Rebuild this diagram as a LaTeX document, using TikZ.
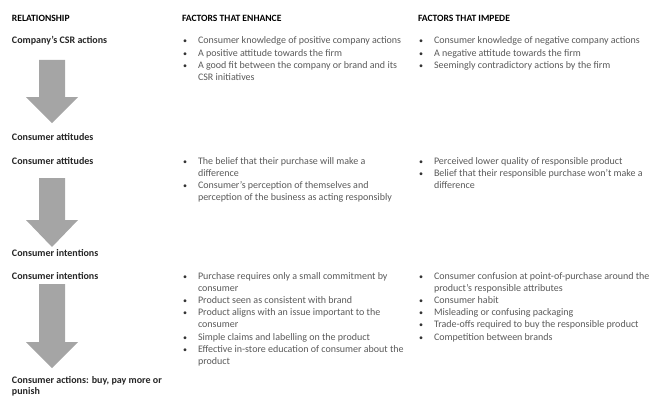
\documentclass[tikz,border=0pt]{standalone}
\usepackage{fontspec}
\setmainfont{Carlito}
\definecolor{txt}{HTML}{595959}
\definecolor{arr}{HTML}{A5A5A5}
\newcommand{\blockarr}[4]{% x-centre, top, head base, tip
  \fill[arr] (#1-13,#2) -- (#1+13,#2) -- (#1+13,#3) -- (#1+26,#3) -- (#1,#4) -- (#1-26,#3) -- (#1-13,#3) -- cycle;}
\newcommand{\bul}{\makebox[15pt][l]{\color{black!80}\scalebox{0.8}{•}}}
\begin{document}
\begin{tikzpicture}[x=1pt,y=-1pt,
  every node/.style={inner sep=0pt, outer sep=0pt, anchor=base west},
  hdr/.style={font=\fontsize{9.6}{12.2}\selectfont\bfseries, text=black},
  lbl/.style={font=\fontsize{10}{12.2}\selectfont\bfseries, text=black!85},
  lst/.style={font=\fontsize{10}{12.2}\selectfont, text=txt}]
\useasboundingbox (0,0) rectangle (650,396);
% headers
\node[hdr] (h1) at (12,22) {RELATIONSHIP};
\node[hdr] (h2) at (182,22) {FACTORS THAT ENHANCE};
\node[hdr] (h3) at (418,22) {FACTORS THAT IMPEDE};
% row 1
\node[lbl] (r1) at (12,44) {Company’s CSR actions};
\blockarr{52}{60}{97}{123}
\node[lbl] (r1e) at (12,140) {Consumer attitudes};
\node[lst] (e1) at (183,44) {\begin{tabular}[t]{@{}l@{}l@{}}
\bul&Consumer knowledge of positive company actions\\
\bul&A positive attitude towards the firm\\
\bul&A good fit between the company or brand and its\\
&CSR initiatives\end{tabular}};
\node[lst] (i1) at (419,44) {\begin{tabular}[t]{@{}l@{}l@{}}
\bul&Consumer knowledge of negative company actions\\
\bul&A negative attitude towards the firm\\
\bul&Seemingly contradictory actions by the firm\end{tabular}};
% row 2
\node[lbl] (r2) at (12,164) {Consumer attitudes};
\blockarr{52}{178}{220}{247}
\node[lbl] (r2e) at (12,256) {Consumer intentions};
\node[lst] (e2) at (183,164) {\begin{tabular}[t]{@{}l@{}l@{}}
\bul&The belief that their purchase will make a\\
&difference\\
\bul&Consumer’s perception of themselves and\\
&perception of the business as acting responsibly\end{tabular}};
\node[lst] (i2) at (419,164) {\begin{tabular}[t]{@{}l@{}l@{}}
\bul&Perceived lower quality of responsible product\\
\bul&Belief that their responsible purchase won’t make a\\
&difference\end{tabular}};
% row 3
\node[lbl] (r3) at (12,279) {Consumer intentions};
\blockarr{52}{284}{342}{368}
\node[lbl] (r3e) at (12,383) {\begin{tabular}[t]{@{}l@{}}Consumer actions: buy, pay more or\\[-0.5pt] punish\end{tabular}};
\node[lst] (e3) at (183,279) {\begin{tabular}[t]{@{}l@{}l@{}}
\bul&Purchase requires only a small commitment by\\
&consumer\\
\bul&Product seen as consistent with brand\\
\bul&Product aligns with an issue important to the\\
&consumer\\
\bul&Simple claims and labelling on the product\\
\bul&Effective in-store education of consumer about the\\
&product\end{tabular}};
\node[lst] (i3) at (419,279) {\begin{tabular}[t]{@{}l@{}l@{}}
\bul&Consumer confusion at point-of-purchase around the\\
&product’s responsible attributes\\
\bul&Consumer habit\\
\bul&Misleading or confusing packaging\\
\bul&Trade-offs required to buy the responsible product\\
\bul&Competition between brands\end{tabular}};
\end{tikzpicture}
\end{document}
